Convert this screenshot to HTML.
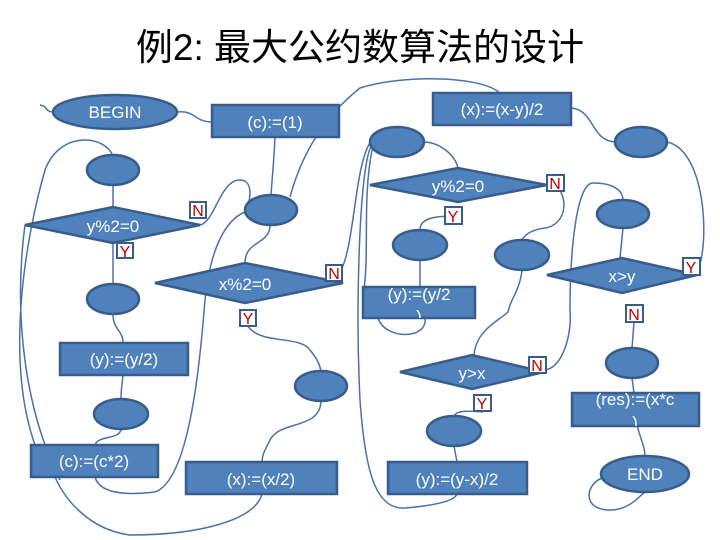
<!DOCTYPE html>
<html><head><meta charset="utf-8"><style>
html,body{margin:0;padding:0;background:#fff;}
svg{display:block;}
.s{fill:#4f81bd;stroke:#385d8a;stroke-width:2.5;}
.c{fill:none;stroke:#4a72a8;stroke-width:1.5;}
.t{fill:#fff;font-family:"Liberation Sans","Noto Sans CJK SC",sans-serif;font-size:17px;text-anchor:middle;}
.lb{fill:#fff;stroke:#385d8a;stroke-width:2;}
.lt{fill:#c00000;font-family:"Liberation Sans",sans-serif;font-size:16px;text-anchor:middle;}
</style></head><body>
<svg width="720" height="540" viewBox="0 0 720 540" xmlns="http://www.w3.org/2000/svg">
<defs>
<clipPath id="c1"><rect x="363" y="287" width="112" height="31"/></clipPath>
<clipPath id="c2"><rect x="572" y="393" width="127" height="33"/></clipPath>
</defs>
<text x="360" y="60" font-family="'Liberation Sans','Noto Sans CJK SC',sans-serif" font-size="37" text-anchor="middle" fill="#000">例2: 最大公约数算法的设计</text>

<!-- connectors -->
<path class="c" d="M40,105 C48,106 45,112 53,112"/>
<path class="c" d="M177,112 C195,110 195,122 212,122"/>
<path class="c" d="M275,137 C274,160 272,180 271,195"/>
<path class="c" d="M290,197 C300,160 320,120 360,88 C400,75 480,75 500,93"/>
<path class="c" d="M113,156 C105,135 60,130 45,170 C25,240 5,360 35,445"/>
<path class="c" d="M25,225 C15,300 20,400 60,480"/>
<path class="c" d="M200,225 C215,222 220,180 240,180 C255,180 250,205 245,210"/>
<path class="c" d="M113,185 L113,207"/>
<path class="c" d="M113,242 L113,284"/>
<path class="c" d="M113,314 C113,330 123,330 123,343"/>
<path class="c" d="M123,375 C122,385 121,390 121,399"/>
<path class="c" d="M121,429 C120,440 98,435 95,445"/>
<path class="c" d="M95,477 C100,495 130,495 155,492 C190,480 200,360 205,300 C210,250 225,220 245,212"/>
<path class="c" d="M270,225 C270,245 245,240 245,263"/>
<path class="c" d="M342,268 C355,240 355,160 372,140"/>
<path class="c" d="M248,326 C260,345 300,335 310,350 C318,360 320,365 321,372"/>
<path class="c" d="M321,401 C320,430 280,420 270,440 C265,450 262,455 262,462"/>
<path class="c" d="M262,494 C255,520 200,535 130,535 C90,530 65,500 55,477"/>
<path class="c" d="M423,142 C440,142 455,155 458,168"/>
<path class="c" d="M372,145 C360,160 355,300 360,400 C365,470 375,510 405,508 C440,505 455,500 457,494"/>
<path class="c" d="M372,150 C362,200 370,260 363,295"/>
<path class="c" d="M454,216 C430,216 420,220 420,230"/>
<path class="c" d="M420,259 L420,287"/>
<path class="c" d="M556,185 C570,200 565,225 545,228 C530,230 525,235 522,240"/>
<path class="c" d="M522,270 C520,290 510,300 508,312 C500,320 476,330 474,355"/>
<path class="c" d="M425,318 C428,340 385,340 378,318"/>
<path class="c" d="M546,370 C565,365 572,330 570,310 C570,247 577,183 593,183 C617,183 623,193 623,200"/>
<path class="c" d="M483,412 C460,410 455,412 454,417"/>
<path class="c" d="M454,446 L457,462"/>
<path class="c" d="M623,228 L620,258"/>
<path class="c" d="M698,270 C710,240 705,150 667,142"/>
<path class="c" d="M571,108 C595,110 590,140 615,142"/>
<path class="c" d="M634,322 L632,348"/>
<path class="c" d="M632,378 L634,393"/>
<path class="c" d="M636,420 C640,440 645,445 645,457"/>
<path class="c" d="M602,478 C585,485 582,510 610,510 C630,510 640,495 645,492"/>

<!-- shapes -->
<ellipse class="s" cx="115" cy="112" rx="62" ry="17"/><text class="t" x="115" y="118">BEGIN</text>
<rect class="s" x="212" y="105" width="127" height="32"/><text class="t" x="275" y="128">(c):=(1)</text>
<ellipse class="s" cx="113" cy="170" rx="26" ry="15"/>
<polygon class="s" points="25,225 113,207 200,225 113,243"/><text class="t" x="113" y="232">y%2=0</text>
<ellipse class="s" cx="271" cy="210" rx="26" ry="15"/>
<ellipse class="s" cx="113" cy="299" rx="26" ry="15"/>
<polygon class="s" points="155,283 245,263 343,283 245,303"/><text class="t" x="245" y="290">x%2=0</text>
<rect class="s" x="60" y="343" width="128" height="32"/><text class="t" x="124" y="365">(y):=(y/2)</text>
<ellipse class="s" cx="121" cy="414" rx="27" ry="15"/>
<rect class="s" x="31" y="445" width="127" height="32"/><text class="t" x="94" y="467">(c):=(c*2)</text>
<ellipse class="s" cx="321" cy="386" rx="26" ry="15"/>
<rect class="s" x="186" y="462" width="151" height="32"/><text class="t" x="261" y="485">(x):=(x/2)</text>

<rect class="s" x="433" y="93" width="138" height="32"/><text class="t" x="502" y="115">(x):=(x-y)/2</text>
<ellipse class="s" cx="397" cy="142" rx="27" ry="15"/>
<polygon class="s" points="370,185 458,168 547,185 458,202"/><text class="t" x="458" y="192">y%2=0</text>
<ellipse class="s" cx="420" cy="245" rx="27" ry="15"/>
<ellipse class="s" cx="522" cy="255" rx="27" ry="15"/>
<rect class="s" x="363" y="287" width="112" height="31"/>
<g clip-path="url(#c1)"><text class="t" x="419" y="300">(y):=(y/2</text><text class="t" x="419" y="322">)</text></g>
<polygon class="s" points="400,372 472,355 544,372 472,389"/><text class="t" x="472" y="379">y&gt;x</text>
<ellipse class="s" cx="454" cy="431" rx="27" ry="15"/>
<rect class="s" x="388" y="462" width="139" height="32"/><text class="t" x="457" y="485">(y):=(y-x)/2</text>

<ellipse class="s" cx="641" cy="142" rx="26" ry="15"/>
<ellipse class="s" cx="623" cy="214" rx="26" ry="14"/>
<polygon class="s" points="547,275 622,258 697,275 622,293"/><text class="t" x="622" y="282">x&gt;y</text>
<ellipse class="s" cx="632" cy="363" rx="26" ry="15"/>
<rect class="s" x="572" y="393" width="127" height="33"/>
<g clip-path="url(#c2)"><text class="t" x="635" y="405">(res):=(x*c</text><text class="t" x="635" y="428">)</text></g>
<ellipse class="s" cx="645" cy="474" rx="44" ry="18"/><text class="t" x="645" y="480">END</text>

<!-- labels -->
<rect class="lb" x="190" y="202" width="16" height="16"/><text class="lt" x="198" y="216">N</text>
<rect class="lb" x="117" y="243" width="16" height="15"/><text class="lt" x="125" y="257">Y</text>
<rect class="lb" x="326" y="265" width="16" height="16"/><text class="lt" x="334" y="279">N</text>
<rect class="lb" x="240" y="310" width="16" height="16"/><text class="lt" x="248" y="324">Y</text>
<rect class="lb" x="547" y="175" width="17" height="16"/><text class="lt" x="555" y="189">N</text>
<rect class="lb" x="445" y="207" width="17" height="17"/><text class="lt" x="453" y="222">Y</text>
<rect class="lb" x="529" y="357" width="17" height="16"/><text class="lt" x="537" y="371">N</text>
<rect class="lb" x="474" y="395" width="17" height="16"/><text class="lt" x="482" y="409">Y</text>
<rect class="lb" x="683" y="258" width="17" height="17"/><text class="lt" x="691" y="273">Y</text>
<rect class="lb" x="626" y="305" width="17" height="17"/><text class="lt" x="634" y="320">N</text>
</svg>
</body></html>
